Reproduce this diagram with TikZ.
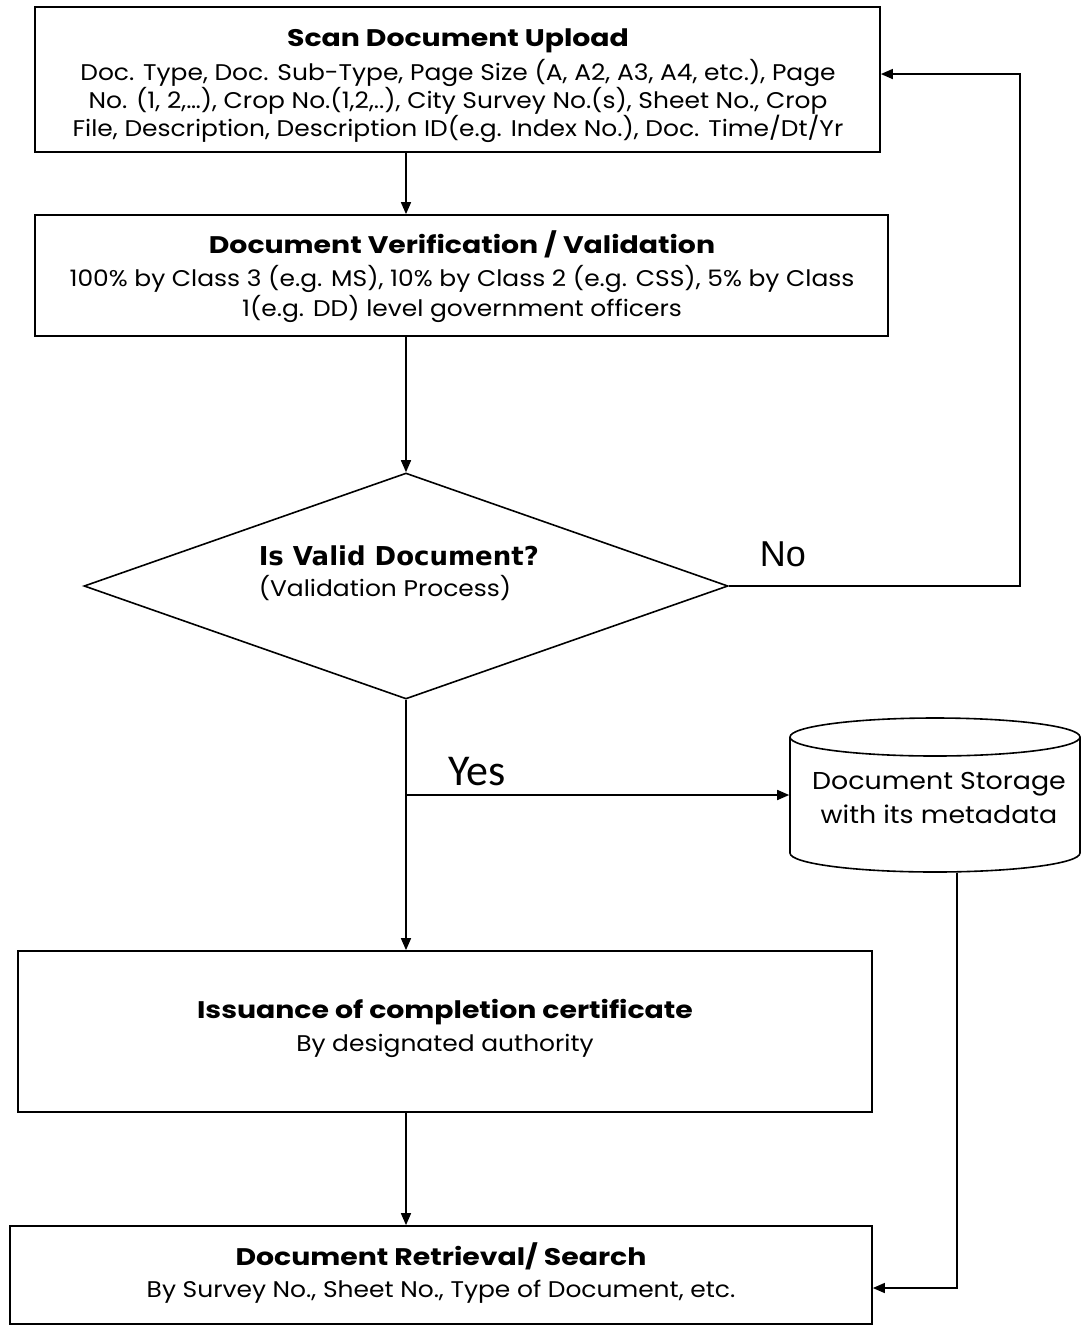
\documentclass[tikz,border=0pt]{standalone}
\usepackage{fontspec}
\setmainfont[FakeStretch=1.1]{Poppins}
\newfontfamily\titlefont[FakeStretch=1.18]{Poppins}
\newfontfamily\lblfont{Liberation Sans}
\newfontfamily\yesfont{Carlito}
\newfontfamily\qfont{DejaVu Sans}
\usetikzlibrary{arrows.meta,shapes.geometric,calc}
\begin{document}
\begin{tikzpicture}[x=0.75pt,y=-0.75pt,
  line width=1.2pt,
  boxshape/.style={draw, line width=1.3pt, inner sep=0pt},
  ttl/.style={anchor=base, font=\titlefont\bfseries\fontsize{18}{21}\selectfont, inner sep=0pt},
  bdy/.style={anchor=base, font=\fontsize{17}{20}\selectfont, inner sep=0pt},
  conn/.style={-{Triangle[length=9pt,width=7.5pt]}, line width=1.2pt}
]
\useasboundingbox (0,0) rectangle (1081,1325);
% boxes
\node[boxshape, minimum width=845*0.75pt, minimum height=145*0.75pt] (b1) at (457.5,79.5) {};
\node[boxshape, minimum width=853*0.75pt, minimum height=121*0.75pt] (b2) at (461.5,275.5) {};
\node[boxshape, minimum width=854*0.75pt, minimum height=161*0.75pt] (b3) at (445,1031.5) {};
\node[boxshape, minimum width=862*0.75pt, minimum height=98*0.75pt] (b4) at (441,1275) {};
\node[draw, diamond, line width=1.2pt, inner sep=0pt, minimum width=644*0.75pt, minimum height=226*0.75pt] (d) at (406,586) {};
% cylinder
\node[inner sep=0pt, minimum width=290*0.75pt, minimum height=154*0.75pt] (cyl) at (935,795) {};
\draw[line width=1.2pt] (935,737) ellipse [x radius=108.75pt, y radius=14.25pt];
\draw[line width=1.2pt] (790,737) -- (790,853) arc[start angle=180, end angle=360, x radius=108.75pt, y radius=14.25pt] -- (1080,737);
% texts
\node[ttl] (t1) at (458,46) {Scan Document Upload};
\node[bdy] (t1a) at (458,80) {Doc. Type, Doc. Sub-Type, Page Size (A, A2, A3, A4, etc.), Page};
\node[bdy] (t1b) at (458,108) {No. (1, 2,\dots), Crop No.(1,2,..), City Survey No.(s), Sheet No., Crop};
\node[bdy] (t1c) at (458,136) {File, Description, Description ID(e.g. Index No.), Doc. Time/Dt/Yr};
\node[ttl] (t2) at (462,253) {Document Verification / Validation};
\node[bdy] (t2a) at (462,286) {100\% by Class 3 (e.g. MS), 10\% by Class 2 (e.g. CSS), 5\% by Class};
\node[bdy] (t2b) at (462,316) {1(e.g. DD) level government officers};
\node[anchor=base west, inner sep=0pt, font=\qfont\bfseries\fontsize{19.5}{23}\selectfont] (tq) at (258,565) {Is Valid Document?};
\node[bdy, anchor=base west] (tqa) at (258,596) {(Validation Process)};
\node[ttl] (t3) at (445,1018) {Issuance of completion certificate};
\node[bdy] (t3a) at (445,1051) {By designated authority};
\node[ttl] (t4) at (441,1265) {Document Retrieval/ Search};
\node[bdy] (t4a) at (441,1297) {By Survey No., Sheet No., Type of Document, etc.};
\node[bdy, font=\fontsize{18.3}{21}\selectfont] (tc1) at (939,789) {Document Storage};
\node[bdy, font=\fontsize{18.3}{21}\selectfont] (tc2) at (939,823) {with its metadata};
\node[anchor=base, inner sep=0pt, font=\lblfont\fontsize{27}{30}\selectfont] (no) at (783,566) {No};
\node[anchor=base, inner sep=0pt, font=\yesfont\fontsize{33}{36}\selectfont] (yes) at (477,785) {Yes};
% connectors
\coordinate (nr) at (1020,586);
\coordinate (yj) at (406,795);
\draw[conn] (b1.south -| d.north) -- (b2.north -| d.north);
\draw[conn] (b2.south -| d.north) -- (d.north);
\draw[conn] (d.east) -- (nr) |- ([yshift=4.1pt]b1.east);
\draw[conn] (d.south) -- (b3.north -| d.south);
\draw[conn] (yj) -- (yj -| cyl.west);
\draw[conn] ([xshift=16.5pt]cyl.south) |- ([yshift=-9.75pt]b4.east);
\draw[conn] (b3.south -| d.south) -- (b4.north -| d.south);
\end{tikzpicture}
\end{document}
